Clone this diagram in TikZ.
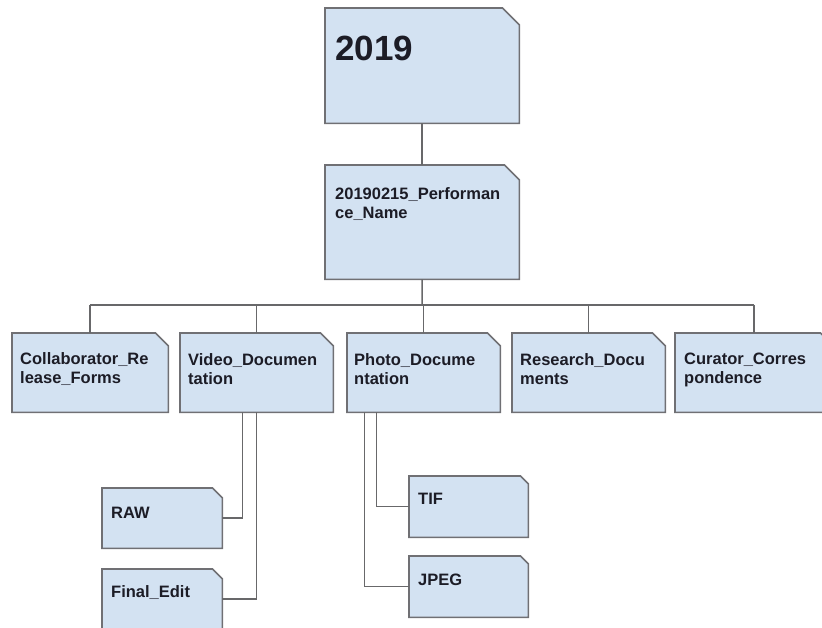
\documentclass[tikz,border=0pt]{standalone}
\usepackage{fontspec}
\setmainfont{Liberation Sans}
\usetikzlibrary{backgrounds}
\definecolor{boxfill}{RGB}{211,226,242}
\definecolor{boxline}{RGB}{112,112,116}
\definecolor{connline}{RGB}{104,104,106}
\definecolor{txt}{RGB}{28,28,38}
\tikzset{
  boxarea/.style={draw=none, fill=none, inner sep=0pt, anchor=north west},
  shapeline/.style={draw=boxline, fill=boxfill, line width=1.6pt, line join=miter},
  conn/.style={draw=connline, line width=1.5pt},
  lbl/.style={inner sep=0pt, anchor=west, align=left, text=txt, font=\fontsize{16.5}{19}\selectfont\bfseries},
  biglbl/.style={inner sep=0pt, anchor=west, text=txt, font=\fontsize{35}{40}\selectfont\bfseries}
}
% folder shape: #1 node name, #2 chamfer size
\newcommand{\foldershape}[2]{%
  \path[shapeline] (#1.north west) -- ([xshift=-#2pt]#1.north east) -- ([yshift=-#2pt]#1.north east) -- (#1.south east) -- (#1.south west) -- cycle;}
\begin{document}
\begin{tikzpicture}[x=1pt,y=-1pt]
\useasboundingbox (0,0) rectangle (822,628);
\clip (0,0) rectangle (822,628);
% box areas
\node[boxarea, minimum width=194pt, minimum height=115pt] (y2019) at (325,8) {};
\node[boxarea, minimum width=194pt, minimum height=114pt] (perf) at (325,165) {};
\node[boxarea, minimum width=156pt, minimum height=79pt] (collab) at (12,333) {};
\node[boxarea, minimum width=153pt, minimum height=79pt] (video) at (180,333) {};
\node[boxarea, minimum width=153pt, minimum height=79pt] (photo) at (347,333) {};
\node[boxarea, minimum width=153pt, minimum height=79pt] (research) at (512,333) {};
\node[boxarea, minimum width=158pt, minimum height=79pt] (curator) at (675,333) {};
\node[boxarea, minimum width=120pt, minimum height=60pt] (raw) at (102,488) {};
\node[boxarea, minimum width=120pt, minimum height=60pt] (final) at (102,569) {};
\node[boxarea, minimum width=119pt, minimum height=61pt] (tif) at (409,476) {};
\node[boxarea, minimum width=119pt, minimum height=61pt] (jpeg) at (409,556) {};
\coordinate (bus) at (422,305);
% shapes
\begin{scope}[on background layer]
\foldershape{y2019}{17}
\foldershape{perf}{15}
\foldershape{collab}{13}
\foldershape{video}{13}
\foldershape{photo}{13}
\foldershape{research}{13}
\foldershape{curator}{13}
\foldershape{raw}{10}
\foldershape{final}{10}
\foldershape{tif}{8}
\foldershape{jpeg}{8}
% connectors
\draw[conn] (y2019.south) -- (perf.north);
\draw[conn] (perf.south) -- (bus);
\draw[conn] (collab.north |- bus) -- (curator.north |- bus);
\draw[conn] (collab.north |- bus) -- (collab.north);
\draw[conn] (video.north |- bus) -- (video.north);
\draw[conn] (photo.north |- bus) -- (photo.north);
\draw[conn] (research.north |- bus) -- (research.north);
\draw[conn] (curator.north |- bus) -- (curator.north);
\draw[conn] ([xshift=-14pt]video.south) |- (raw.east);
\draw[conn] (video.south) |- (final.east);
\draw[conn] ([xshift=-47pt]photo.south) |- (tif.west);
\draw[conn] ([xshift=-59pt]photo.south) |- (jpeg.west);
\end{scope}
% labels
\node[biglbl] (t2019) at (335,48) {2019};
\node[lbl] (tperf) at (335,204.5) {20190215\_Performan\\ce\_Name};
\node[lbl] (tcollab) at (20,369.5) {Collaborator\_Re\\lease\_Forms};
\node[lbl] (tvideo) at (188,369.5) {Video\_Documen\\tation};
\node[lbl] (tphoto) at (354,369.5) {Photo\_Docume\\ntation};
\node[lbl] (tresearch) at (520,369.5) {Research\_Docu\\ments};
\node[lbl] (tcurator) at (684,369.5) {Curator\_Corres\\pondence};
\node[lbl] (traw) at (111,513) {RAW};
\node[lbl] (tfinal) at (111,593) {Final\_Edit};
\node[lbl] (ttif) at (418,499) {TIF};
\node[lbl] (tjpeg) at (418,580) {JPEG};
\end{tikzpicture}
\end{document}
